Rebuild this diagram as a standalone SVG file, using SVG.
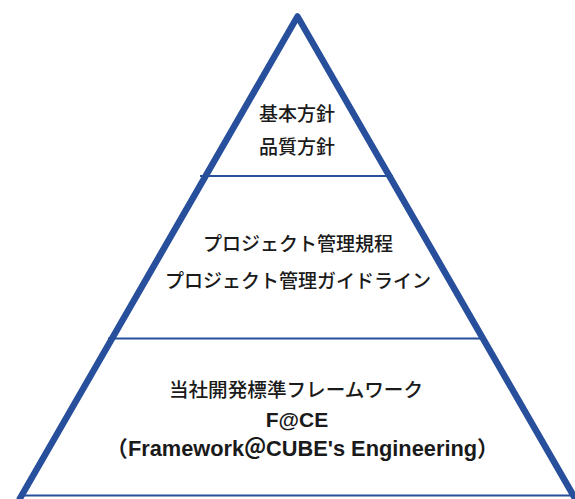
<svg xmlns="http://www.w3.org/2000/svg" width="575" height="499" viewBox="0 0 575 499">
<style>
.t{font-family:"Noto Sans CJK JP","Liberation Sans",sans-serif;font-weight:500;font-size:19px;fill:#1a1a1a;text-anchor:middle}
.b{font-family:"Liberation Sans","Noto Sans CJK JP",sans-serif;font-weight:bold;font-size:21px;fill:#1a1a1a;text-anchor:middle}
.side{fill:none;stroke:#274f9b;stroke-width:6.5;stroke-linejoin:round;stroke-linecap:butt}
.div{stroke:#274f9b;stroke-width:2}
</style>
<rect width="575" height="499" fill="#ffffff"/>
<g id="connectors">
<polyline class="side" points="19,500 297.5,16.5 576,500"/>
<line class="div" x1="20" y1="495.5" x2="572" y2="495.5"/>
<line class="div" x1="200" y1="176" x2="393" y2="176"/>
<line class="div" x1="108" y1="338.5" x2="486" y2="338.5"/>
</g>
<g id="top">
<text class="t" x="297" y="121">基本方針</text>
<text class="t" x="297" y="154">品質方針</text>
</g>
<g id="middle">
<text class="t" x="298" y="251">プロジェクト管理規程</text>
<text class="t" x="298" y="288">プロジェクト管理ガイドライン</text>
</g>
<g id="bottom">
<text class="t" x="296" y="397" style="font-size:19.6px">当社開発標準フレームワーク</text>
<text class="b" x="297" y="427">F@CE</text>
<text class="b" x="302.5" y="456" style="font-size:21.8px">（Framework＠CUBE's Engineering）</text>
</g>
</svg>
